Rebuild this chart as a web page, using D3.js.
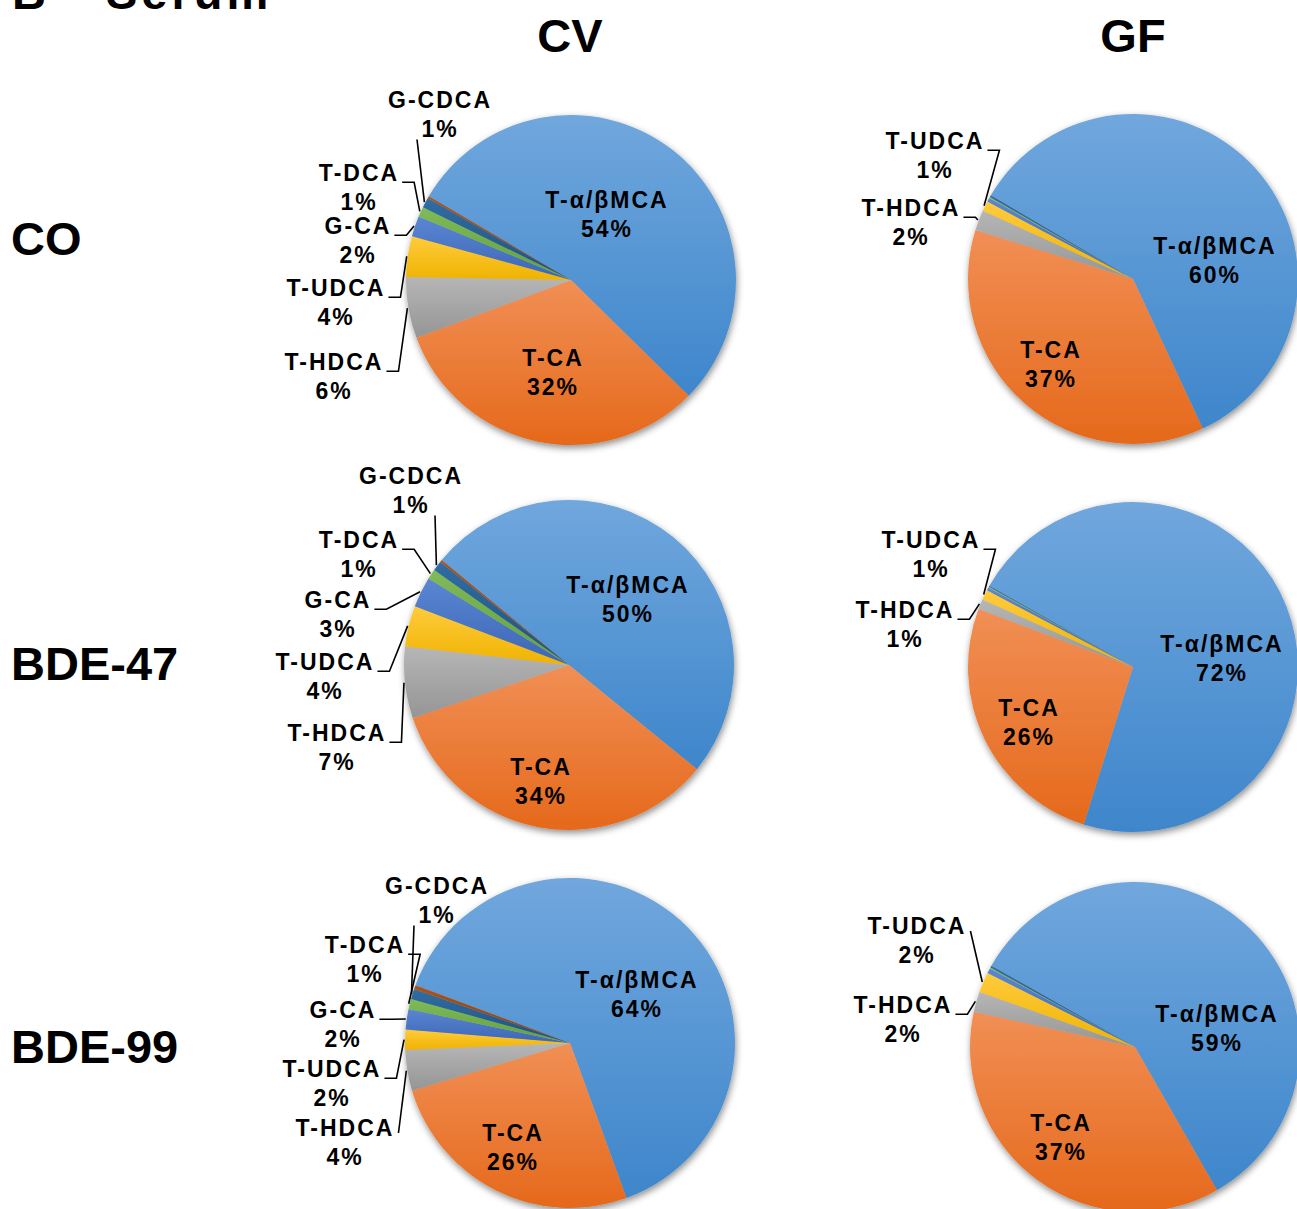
<!DOCTYPE html>
<html>
<head>
<meta charset="utf-8">
<script src="https://cdn.jsdelivr.net/npm/d3@7/dist/d3.min.js"></script>
<style>
  html, body { margin: 0; padding: 0; background: #fff; }
  svg { display: block; }
  text { font-family: "Liberation Sans", Arial, sans-serif; font-weight: bold; fill: #000; }
</style>
</head>
<body>
<svg id="chart" width="1297" height="1209"></svg>
<script>
// Bile acid composition in serum (% of total), per treatment and microbiota status
const acids = ["T-α/βMCA", "T-CA", "T-HDCA", "T-UDCA", "G-CA", "T-DCA", "G-CDCA", "other"];
const columns = ["CV", "GF"];
const rows = ["CO", "BDE-47", "BDE-99"];

const coCV    = [54, 32, 6, 4, 2, 1, 1, 0.2];
const coGF    = [60, 37, 2, 1, 0.4, 0.1, 0.2, 0];
const bde47CV = [50, 34, 7, 4, 3, 1, 1, 0.2];
const bde47GF = [72, 26, 1, 1, 0.3, 0.1, 0.1, 0];
const bde99CV = [64, 26, 4, 2, 2, 1, 1, 0.4];
const bde99GF = [59, 37, 2, 2, 0.5, 0.1, 0.2, 0];

// Slices that carry a label in each column
const labelledCV = ["T-α/βMCA", "T-CA", "T-HDCA", "T-UDCA", "G-CA", "T-DCA", "G-CDCA"];
const labelledGF = ["T-α/βMCA", "T-CA", "T-HDCA", "T-UDCA"];

// Office-style palette: [top tint, bottom shade]
const palette = [
  ["#70a7dd", "#3e86cb"],
  ["#f18f55", "#e5691b"],
  ["#b6b6b6", "#959595"],
  ["#ffcb3d", "#efb300"],
  ["#5b86d2", "#3b66b6"],
  ["#7fbb57", "#62a03d"],
  ["#316da3", "#1f517e"],
  ["#ab541c", "#8c3e0a"]
];

// Layout: pie centres, first-slice angle (deg, clockwise from 12 o'clock), label placement
// label entries: [x, y of first line, leader style]  (h = elbow from right, v = from below, d = direct)
const layout = [
  { values: coCV, labels: labelledCV, cx: 571, cy: 280, start: -59.5, pos: {
      "T-α/βMCA": [607, 200], "T-CA": [553, 358],
      "G-CDCA": [440, 100, "v"], "T-DCA": [359, 173, "h"], "G-CA": [358, 226, "h"],
      "T-UDCA": [336, 288, "h"], "T-HDCA": [334, 362, "h"] } },
  { values: coGF, labels: labelledGF, cx: 1133, cy: 279, start: -59.5, pos: {
      "T-α/βMCA": [1215, 246], "T-CA": [1051, 350],
      "T-UDCA": [935, 141, "h"], "T-HDCA": [911, 208, "h"] } },
  { values: bde47CV, labels: labelledCV, cx: 569, cy: 665, start: -50.5, pos: {
      "T-α/βMCA": [628, 585], "T-CA": [541, 767],
      "G-CDCA": [411, 476, "v"], "T-DCA": [359, 540, "h"], "G-CA": [338, 600, "h"],
      "T-UDCA": [325, 662, "h"], "T-HDCA": [337, 733, "h"] } },
  { values: bde47GF, labels: labelledGF, cx: 1133, cy: 667, start: -60.5, pos: {
      "T-α/βMCA": [1222, 644], "T-CA": [1029, 708],
      "T-UDCA": [931, 540, "h"], "T-HDCA": [905, 610, "h"] } },
  { values: bde99CV, labels: labelledCV, cx: 570, cy: 1043, start: -69.5, pos: {
      "T-α/βMCA": [637, 980], "T-CA": [513, 1133],
      "G-CDCA": [437, 886, "v"], "T-DCA": [365, 945, "h"], "G-CA": [343, 1010, "h"],
      "T-UDCA": [332, 1069, "h"], "T-HDCA": [345, 1128, "d"] } },
  { values: bde99GF, labels: labelledGF, cx: 1135, cy: 1047, start: -60.5, pos: {
      "T-α/βMCA": [1217, 1014], "T-CA": [1061, 1123],
      "T-UDCA": [917, 926, "d"], "T-HDCA": [903, 1005, "h"] } }
];

const R = 165;
const lineGap = 28.5;
const svg = d3.select("#chart");
const defs = svg.append("defs");

palette.forEach((c, i) => {
  const g = defs.append("linearGradient").attr("id", "g" + i)
    .attr("x1", 0).attr("y1", 0).attr("x2", 0).attr("y2", 1);
  g.append("stop").attr("offset", "0%").attr("stop-color", c[0]);
  g.append("stop").attr("offset", "100%").attr("stop-color", c[1]);
});

const shadow = defs.append("filter").attr("id", "shadow")
  .attr("x", "-20%").attr("y", "-20%").attr("width", "140%").attr("height", "140%");
shadow.append("feDropShadow").attr("dx", 1).attr("dy", 3)
  .attr("stdDeviation", 3.5).attr("flood-color", "#000").attr("flood-opacity", 0.45);

const colour = d3.scaleOrdinal().domain(acids).range(acids.map((d, i) => `url(#g${i})`));
const arc = d3.arc().innerRadius(0).outerRadius(R);
const fmt = v => d3.format(".0f")(v) + "%";

// Headings
svg.append("text").attr("x", 12).attr("y", 9).style("font-size", "47px").text("B");
svg.append("text").attr("x", 106).attr("y", 9).style("font-size", "47px")
  .style("letter-spacing", "4px").text("Serum");
const colX = d3.scaleOrdinal().domain(columns).range([570, 1133]);
columns.forEach(c => svg.append("text").attr("x", colX(c)).attr("y", 52)
  .attr("text-anchor", "middle").style("font-size", "47px").text(c));
const rowY = d3.scaleOrdinal().domain(rows).range([255, 680, 1063]);
rows.forEach(r => svg.append("text").attr("x", 11).attr("y", rowY(r))
  .style("font-size", "47px").text(r));

layout.forEach(p => {
  const toRad = Math.PI / 180;
  const pie = d3.pie().sort(null)
    .startAngle(p.start * toRad).endAngle((p.start + 360) * toRad)
    .value(d => d.v);
  const arcs = pie(acids.map((a, i) => ({ name: a, v: p.values[i] })));

  const g = svg.append("g").attr("transform", `translate(${p.cx},${p.cy})`);
  g.append("g").attr("filter", "url(#shadow)")
    .selectAll("path").data(arcs.filter(d => d.data.v > 0)).join("path")
    .attr("d", arc)
    .attr("fill", d => colour(d.data.name));

  arcs.filter(d => p.labels.includes(d.data.name)).forEach(d => {
    const [lx, ly, style] = p.pos[d.data.name];
    const t = svg.append("text").attr("text-anchor", "middle")
      .style("font-size", "23px").style("letter-spacing", "2px");
    t.append("tspan").attr("x", lx).attr("y", ly + 8).text(d.data.name);
    t.append("tspan").attr("x", lx).attr("y", ly + lineGap + 8).text(fmt(d.data.v));
    if (!style) return;

    const bb = t.node().getBBox();
    const mid = (d.startAngle + d.endAngle) / 2;
    const ex = p.cx + Math.sin(mid) * (R + 1);
    const ey = p.cy - Math.cos(mid) * (R + 1);
    let pts;
    if (style === "h") {
      const sx = bb.x + bb.width + 3;
      const sy = ly + lineGap / 2 - 5;
      pts = [[sx, sy], [sx + 12, sy], [ex, ey]];
    } else if (style === "v") {
      const sx = lx + (ex < lx ? -23 : 24);
      pts = [[sx, ly + lineGap + 11], [ex, ey]];
    } else {
      pts = [[bb.x + bb.width + 4, ly + 5], [ex, ey]];
    }
    svg.append("path").attr("d", d3.line()(pts))
      .attr("fill", "none").attr("stroke", "#000").attr("stroke-width", 1.6);
  });
});
</script>
</body>
</html>
